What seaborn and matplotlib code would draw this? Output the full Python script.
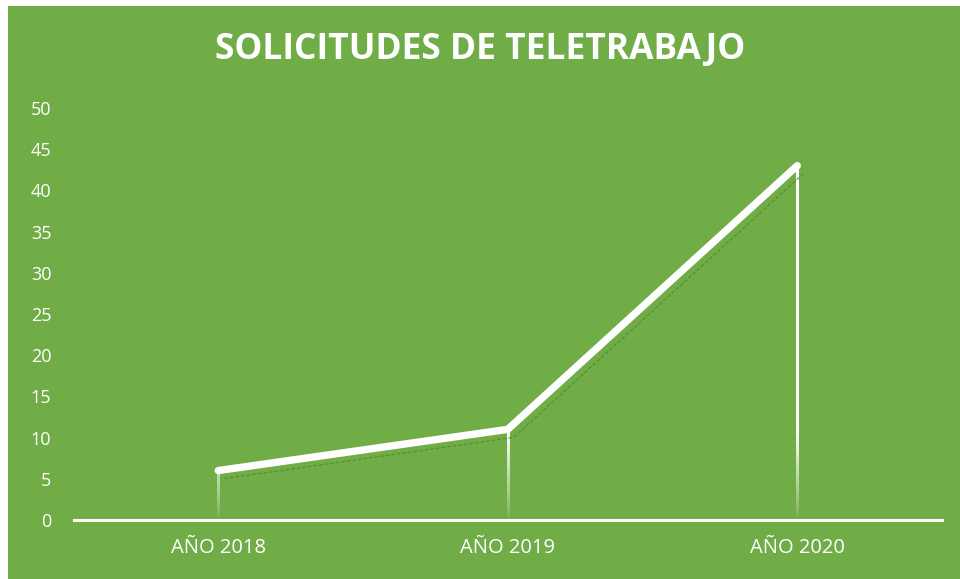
"""
Solicitudes de teletrabajo por año — line chart on green panel
"""

import numpy as np
import matplotlib
matplotlib.use("Agg")
import matplotlib.pyplot as plt
import matplotlib.patches as mpatches
from matplotlib.transforms import offset_copy
import seaborn as sns

# ── Data ──────────────────────────────────────────────────────────────────────

years = ["AÑO 2018", "AÑO 2019", "AÑO 2020"]
requests = [6, 11, 43]
y_ticks = [0, 5, 10, 15, 20, 25, 30, 35, 40, 45, 50]

GREEN = "#70AD47"
SHADOW = "#4E8A2E"

sns.set_theme(style="white")
plt.rcParams["font.family"] = ["Open Sans", "DejaVu Sans"]

# ── Figure ────────────────────────────────────────────────────────────────────

fig = plt.figure(figsize=(9.6, 5.79), dpi=100, facecolor="white")
# green panel with thin white margin at left / top
fig.patches.append(mpatches.Rectangle((8 / 960, 0), 1 - 8 / 960, 1 - 6 / 579,
                                      transform=fig.transFigure,
                                      facecolor=GREEN, edgecolor="none", zorder=-1))

ax = fig.add_axes([73.5 / 960, 59 / 579, (942 - 73.5) / 960, (520 - 108) / 579])
ax.set_facecolor("none")
ax.set_zorder(2)

x = np.arange(len(years))

# drop lines: white, fading out toward the axis
half_w = 0.0042
for xi, val in zip(x, requests):
    yy = np.linspace(val, 0, 200)[:, None]
    img = np.ones((200, 1, 4))
    img[..., 3] = np.clip(yy / 11.0, 0, 1) ** 0.8
    ax.imshow(img, extent=(xi - half_w, xi + half_w, 0, val), aspect="auto",
              interpolation="bilinear", zorder=2)

# thin dark shadow under the main line
shadow_tr = offset_copy(ax.transData, fig=fig, x=6, y=-8, units="dots")
ax.plot(x, requests, color=SHADOW, linewidth=0.9, linestyle=(0, (3, 1.5)),
        alpha=0.8, transform=shadow_tr, zorder=2)

sns.lineplot(x=x, y=requests, ax=ax, color="white", linewidth=5.3,
             solid_capstyle="round", solid_joinstyle="miter", zorder=3)

ax.set_xlim(-0.5, 2.5)
ax.set_ylim(0, 50)
ax.set_yticks(y_ticks)
ax.set_xticks(x)
ax.set_xticklabels(years)

for side in ["top", "right", "left"]:
    ax.spines[side].set_visible(False)
ax.spines["bottom"].set_color("white")
ax.spines["bottom"].set_linewidth(2.2)
ax.spines["bottom"].set_zorder(4)

ax.tick_params(axis="y", length=0, pad=16, labelsize=13, labelcolor="white")
ax.tick_params(axis="x", length=0, pad=13, labelsize=14.5, labelcolor="white")

ax.set_xlabel("")
ax.set_ylabel("")
ax.grid(False)

fig.text(0.5, 1 - 50 / 579, "SOLICITUDES DE TELETRABAJO", color="white",
         fontsize=25.5, fontweight="bold", ha="center", va="center")

fig.savefig("out.png", dpi=100, facecolor="white")
plt.close(fig)
